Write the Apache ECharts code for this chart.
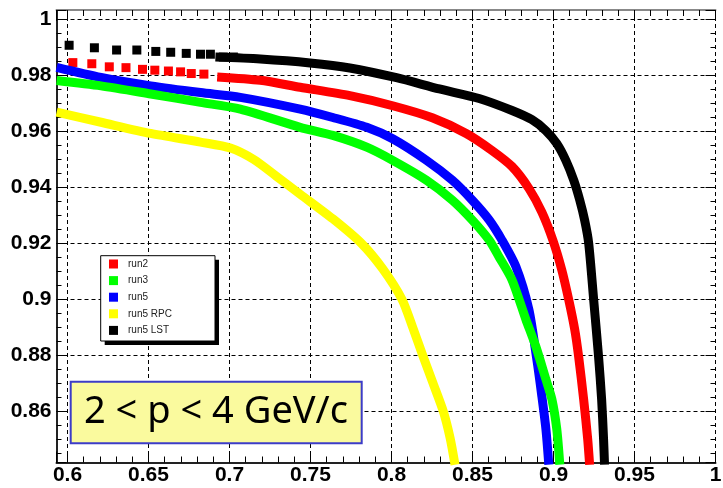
<!DOCTYPE html>
<html>
<head>
<meta charset="utf-8">
<script src="https://cdn.jsdelivr.net/npm/echarts@6/dist/echarts.min.js"></script>
<style>
    html, body { margin: 0; padding: 0; background: #fff; }
    #chart { width: 723px; height: 488px; }
</style>
</head>
<body>
<div id="chart"></div>
<script>
// axis ranges and tick labels (ranges chosen so grid lines land on pixel centres)
var X_MIN = 0.5932099, X_MAX = 1.0;
var Y_MIN = 0.8417857, Y_MAX = 1.0033929;
var xTickLabels = ['0.6', '0.65', '0.7', '0.75', '0.8', '0.85', '0.9', '0.95', '1'];
var yTickLabels = ['0.86', '0.88', '0.9', '0.92', '0.94', '0.96', '0.98', '1'];

var legendNames = ['run2', 'run3', 'run5', 'run5 RPC', 'run5 LST'];

// separate markers at the start of run2 / run5 LST
var run2Dots = [[0.6033, 0.9846], [0.6150, 0.9842], [0.6258, 0.9831], [0.6361, 0.9828], [0.6463, 0.9822],
    [0.6539, 0.9819], [0.6623, 0.9816], [0.6698, 0.9813], [0.6764, 0.9807], [0.6842, 0.9805]];
var run5LstDots = [[0.6010, 0.9908], [0.6166, 0.9899], [0.6303, 0.9891], [0.6428, 0.9891], [0.6545, 0.9886],
    [0.6637, 0.9883], [0.6733, 0.9879], [0.6821, 0.9876], [0.6882, 0.9876], [0.6962, 0.9866], [0.7024, 0.9866]];

var run2Curve = [[0.6924, 0.9795], [0.7190, 0.9783], [0.7436, 0.9758], [0.7743, 0.9728], [0.8007, 0.9692],
    [0.8252, 0.9649], [0.8461, 0.9593], [0.8621, 0.9532], [0.8744, 0.9475], [0.8848, 0.9397], [0.8928, 0.9312],
    [0.8996, 0.9212], [0.9051, 0.9106], [0.9094, 0.8999], [0.9131, 0.8893], [0.9155, 0.8797], [0.9186, 0.8644],
    [0.9211, 0.8502], [0.9223, 0.8410]];
var run3Curve = [[0.5933, 0.9782], [0.6207, 0.9763], [0.6514, 0.9734], [0.6821, 0.9704], [0.7067, 0.9680],
    [0.7436, 0.9615], [0.7638, 0.9586], [0.7847, 0.9544], [0.8007, 0.9497], [0.8216, 0.9426], [0.8375, 0.9355],
    [0.8498, 0.9284], [0.8603, 0.9212], [0.8664, 0.9152], [0.8744, 0.9070], [0.8830, 0.8928], [0.8891, 0.8832],
    [0.8953, 0.8715], [0.8990, 0.8644], [0.9020, 0.8538], [0.9039, 0.8410]];
var run5Curve = [[0.5933, 0.9829], [0.6207, 0.9793], [0.6514, 0.9763], [0.6821, 0.9739], [0.7067, 0.9722],
    [0.7436, 0.9680], [0.7638, 0.9650], [0.7847, 0.9615], [0.8007, 0.9574], [0.8216, 0.9497], [0.8375, 0.9426],
    [0.8498, 0.9355], [0.8603, 0.9284], [0.8682, 0.9212], [0.8768, 0.9117], [0.8848, 0.8964], [0.8897, 0.8786],
    [0.8928, 0.8655], [0.8953, 0.8538], [0.8971, 0.8410]];
var run5RpcCurve = [[0.5933, 0.9669], [0.6207, 0.9633], [0.6514, 0.9593], [0.6821, 0.9562], [0.7006, 0.9541],
    [0.7150, 0.9500], [0.7290, 0.9440], [0.7436, 0.9376], [0.7638, 0.9288], [0.7815, 0.9200], [0.7945, 0.9110],
    [0.8065, 0.9000], [0.8130, 0.8902], [0.8193, 0.8800], [0.8257, 0.8700], [0.8320, 0.8600], [0.8362, 0.8505],
    [0.8392, 0.8410]];
var run5LstCurve = [[0.6913, 0.9866], [0.7190, 0.9859], [0.7497, 0.9845], [0.7743, 0.9827], [0.8031, 0.9792],
    [0.8295, 0.9752], [0.8541, 0.9718], [0.8744, 0.9675], [0.8867, 0.9642], [0.8953, 0.9603], [0.9020, 0.9557],
    [0.9076, 0.9497], [0.9125, 0.9426], [0.9162, 0.9355], [0.9192, 0.9284], [0.9217, 0.9202], [0.9248, 0.8999],
    [0.9278, 0.8797], [0.9297, 0.8644], [0.9309, 0.8502], [0.9315, 0.8410]];

function tickLabel(list) {
    return function (v) {
        for (var i = 0; i < list.length; i++) {
            if (Math.abs(Number(list[i]) - v) < 1e-6) return list[i];
        }
        return '';
    };
}

var labelFont = { color: '#000', fontFamily: 'Liberation Sans', fontWeight: 'bold', fontSize: 21 };
var dash = { color: '#000', width: 1, type: [4, 3] };

function axis(pos, min, max, step, tickLen, opts) {
    var a = {
        type: 'value', position: pos, min: min, max: max,
        minInterval: step, maxInterval: step,
        axisLine: { show: false, onZero: false },
        axisTick: { show: true, inside: true, length: tickLen, lineStyle: { color: '#000', width: 1 } },
        axisLabel: { show: false },
        splitLine: { show: false }
    };
    return Object.assign(a, opts || {});
}

function curve(name, color, data) {
    return {
        name: name, type: 'line', data: data, symbol: 'none', clip: true,
        smooth: 0.25,
        lineStyle: { color: color, width: 9, join: 'round', cap: 'butt', opacity: 1 },
        itemStyle: { color: color }
    };
}

function dots(name, color, data) {
    return {
        name: name, type: 'scatter', data: data, symbol: 'rect', symbolSize: 9,
        itemStyle: { color: color, opacity: 1 }
    };
}

var chart = echarts.init(document.getElementById('chart'));
var option = {
    animation: false,
    backgroundColor: '#fff',
    grid: { left: 56.5, right: 7.5, top: 10, bottom: 25.5, containLabel: false, outerBoundsMode: 'none' },
    xAxis: [
        axis('bottom', X_MIN, X_MAX, 0.05, 11, {
            axisLine: { show: true, onZero: false, lineStyle: { color: '#222', width: 2 } },
            axisLabel: Object.assign({ show: true, margin: 2, formatter: tickLabel(xTickLabels) }, labelFont),
            splitLine: { show: true, lineStyle: dash }
        }),
        axis('bottom', X_MIN, X_MAX, 0.01, 6),
        axis('top', X_MIN, X_MAX, 0.05, 11, {
            axisLine: { show: true, onZero: false, lineStyle: { color: '#888', width: 2 } }
        }),
        axis('top', X_MIN, X_MAX, 0.01, 6)
    ],
    yAxis: [
        axis('left', Y_MIN, Y_MAX, 0.02, 10, {
            axisLine: { show: true, onZero: false, lineStyle: { color: '#222', width: 2 } },
            axisLabel: Object.assign({ show: true, margin: 5, formatter: tickLabel(yTickLabels) }, labelFont),
            splitLine: { show: true, lineStyle: dash }
        }),
        axis('left', Y_MIN, Y_MAX, 0.005, 5),
        axis('right', Y_MIN, Y_MAX, 0.02, 10),
        axis('right', Y_MIN, Y_MAX, 0.005, 5)
    ],
    legend: {
        data: legendNames,
        orient: 'vertical',
        left: 109, top: 258,
        padding: 0,
        itemGap: 4.6,
        itemWidth: 9, itemHeight: 9,
        icon: 'rect',
        selectedMode: false,
        z: 12,
        textStyle: { color: '#222', fontFamily: 'Liberation Sans', fontSize: 10, lineHeight: 12, padding: [0, 0, 0, 5] }
    },
    graphic: [
        // legend frame with drop shadow
        { type: 'rect', z: 10, shape: { x: 104.7, y: 259.7, width: 114.3, height: 85.3 }, style: { fill: '#000' } },
        { type: 'rect', z: 11, shape: { x: 100.7, y: 255.7, width: 114.3, height: 85.3 },
          style: { fill: '#fff', stroke: '#000', lineWidth: 1 } },
        // momentum range box
        { type: 'rect', z: 10, shape: { x: 70.7, y: 381.7, width: 291, height: 61.6 },
          style: { fill: '#fafa9e', stroke: '#3c3cc8', lineWidth: 2 } },
        { type: 'text', z: 11, x: 216, y: 412.5,
          style: { text: '2 < p < 4 GeV/c', fill: '#000', font: '38px "Noto Sans"', textAlign: 'center', textVerticalAlign: 'middle' } }
    ],
    series: [
        curve('run5', '#0000ff', run5Curve),
        curve('run3', '#00ff00', run3Curve),
        curve('run2', '#ff0000', run2Curve),
        dots('run2', '#ff0000', run2Dots),
        curve('run5 RPC', '#ffff00', run5RpcCurve),
        curve('run5 LST', '#000000', run5LstCurve),
        dots('run5 LST', '#000000', run5LstDots)
    ]
};
chart.setOption(option);
</script>
</body>
</html>
